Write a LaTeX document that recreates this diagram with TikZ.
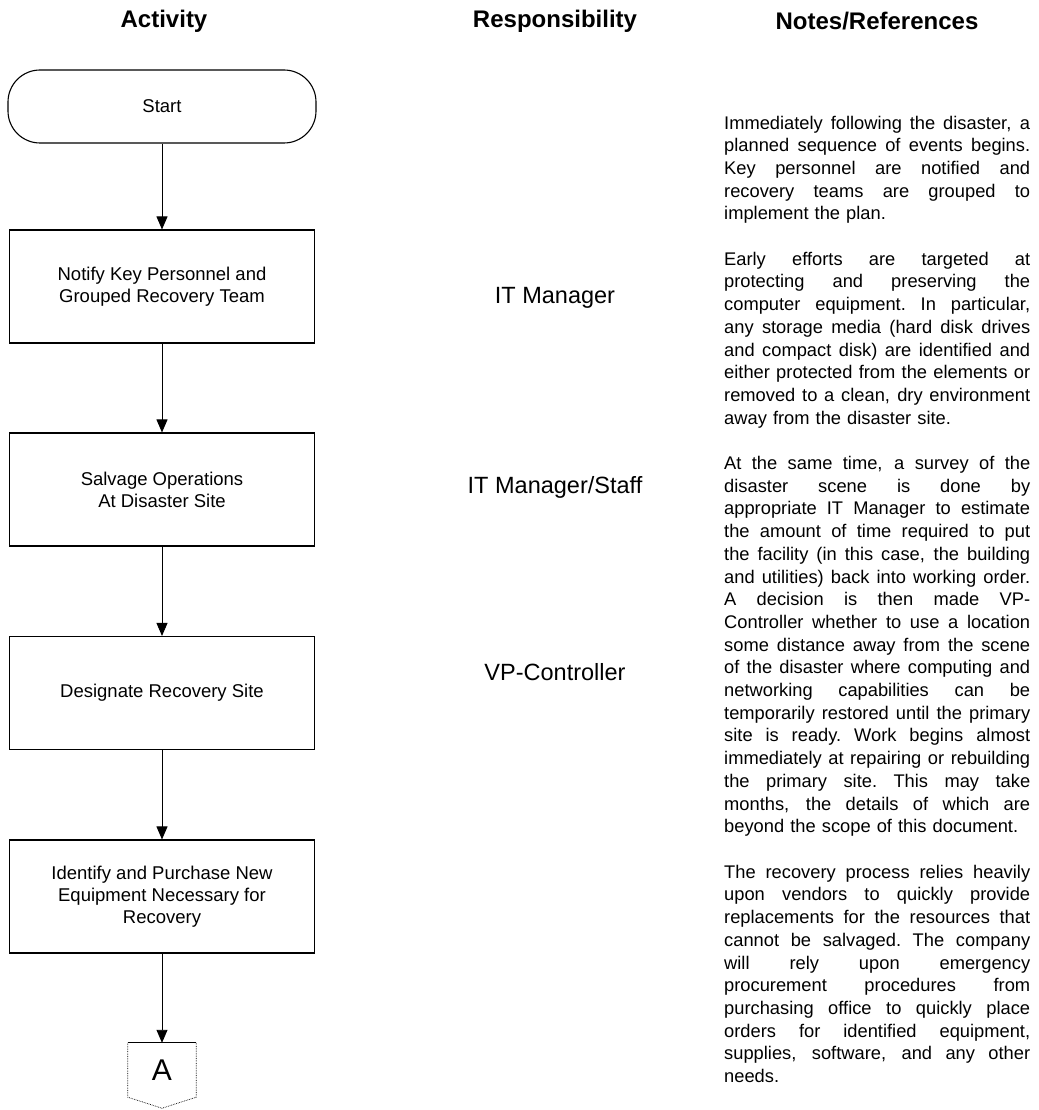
\documentclass[tikz,border=0pt]{standalone}
\usepackage{fontspec}
\setmainfont{Liberation Sans}
\usetikzlibrary{arrows.meta,positioning}
% one justified line of the notes column
\newlength{\notew}
\setlength{\notew}{306pt}
\newcommand{\jl}[1]{\leavevmode\hbox to\notew{\spaceskip=.28em plus 1fil\xspaceskip=.28em plus 1fil\relax#1}}

\begin{document}
\begin{tikzpicture}[x=1pt,y=-1pt,
    head/.style={font=\fontsize{24}{28}\selectfont\bfseries},
    terminal/.style={draw, line width=1.1pt, rounded corners=32pt, minimum width=308pt, minimum height=73pt, font=\fontsize{18.5}{22}\selectfont},
    activity/.style={draw, line width=1.1pt, minimum width=305pt, minimum height=113pt, align=center, font=\fontsize{18.5}{22}\selectfont},
    offpage/.style={densely dotted, line width=0.7pt},
    resp/.style={font=\fontsize{23.5}{28}\selectfont},
    note/.style={anchor=north west, text width=\notew, inner sep=0pt, align=left, font=\fontsize{18.3}{22.7}\selectfont},
    flow/.style={line width=0.9pt, -{Triangle[width=11pt,length=13pt]}}]
  \useasboundingbox (0,0) rectangle (1038,1110);

  % Column headings
  \node[head] (hAct) at (164,21) {Activity};
  \node[head] (hResp) at (555,21) {Responsibility};
  \node[head] (hNotes) at (877,21) {Notes/References};

  % Activity column
  \node[terminal] (start) at (162,106.5) {Start};
  \node[activity] (notify) at (162,286.5) {Notify Key Personnel and\\Grouped Recovery Team};
  \node[activity] (salvage) at (162,489.5) {Salvage Operations\\At Disaster Site};
  \node[activity] (designate) at (162,693) {Designate Recovery Site};
  \node[activity] (purchase) at (162,896.5) {Identify and Purchase New\\Equipment Necessary for\\Recovery};
  \node[minimum width=68pt, minimum height=54pt, inner sep=0pt, font=\fontsize{30}{32}\selectfont] (conA) at (162,1070) {A};
  \draw[line width=0.8pt] (conA.north west) -- (conA.north east);
  \draw[offpage] (conA.north east) -- (conA.south east) -- ([yshift=-11pt]conA.south) -- (conA.south west) -- (conA.north west);

  \draw[flow] (start) -- (notify);
  \draw[flow] (notify) -- (salvage);
  \draw[flow] (salvage) -- (designate);
  \draw[flow] (designate) -- (purchase);
  \draw[flow] (purchase) -- (conA);

  % Responsibility column
  \node[resp] (rNotify) at (555,298) {IT Manager};
  \node[resp] (rSalvage) at (555,487) {IT Manager/Staff};
  \node[resp] (rDesignate) at (555,672) {VP-Controller};

  % Notes column
  \node[note] (note1) at (724,113) {\strut\jl{Immediately following the disaster, a}\\
    \jl{planned sequence of events begins.}\\
    \jl{Key personnel are notified and}\\
    \jl{recovery teams are grouped to}\\
    implement the plan.};
  \node[note] (note2) at (724,249.2) {\strut\jl{Early efforts are targeted at}\\
    \jl{protecting and preserving the}\\
    \jl{computer equipment. In particular,}\\
    \jl{any storage media (hard disk drives}\\
    \jl{and compact disk) are identified and}\\
    \jl{either protected from the elements or}\\
    \jl{removed to a clean, dry environment}\\
    away from the disaster site.};
  \node[note] (note3) at (724,453.5) {\strut\jl{At the same time, a survey of the}\\
    \jl{disaster scene is done by}\\
    \jl{appropriate IT Manager to estimate}\\
    \jl{the amount of time required to put}\\
    \jl{the facility (in this case, the building}\\
    \jl{and utilities) back into working order.}\\
    \jl{A decision is then made VP-}\\
    \jl{Controller whether to use a location}\\
    \jl{some distance away from the scene}\\
    \jl{of the disaster where computing and}\\
    \jl{networking capabilities can be}\\
    \jl{temporarily restored until the primary}\\
    \jl{site is ready. Work begins almost}\\
    \jl{immediately at repairing or rebuilding}\\
    \jl{the primary site. This may take}\\
    \jl{months, the details of which are}\\
    beyond the scope of this document.};
  \node[note] (note4) at (724,862.1) {\strut\jl{The recovery process relies heavily}\\
    \jl{upon vendors to quickly provide}\\
    \jl{replacements for the resources that}\\
    \jl{cannot be salvaged. The company}\\
    \jl{will rely upon emergency}\\
    \jl{procurement procedures from}\\
    \jl{purchasing office to quickly place}\\
    \jl{orders for identified equipment,}\\
    \jl{supplies, software, and any other}\\
    needs.};
\end{tikzpicture}
\end{document}
